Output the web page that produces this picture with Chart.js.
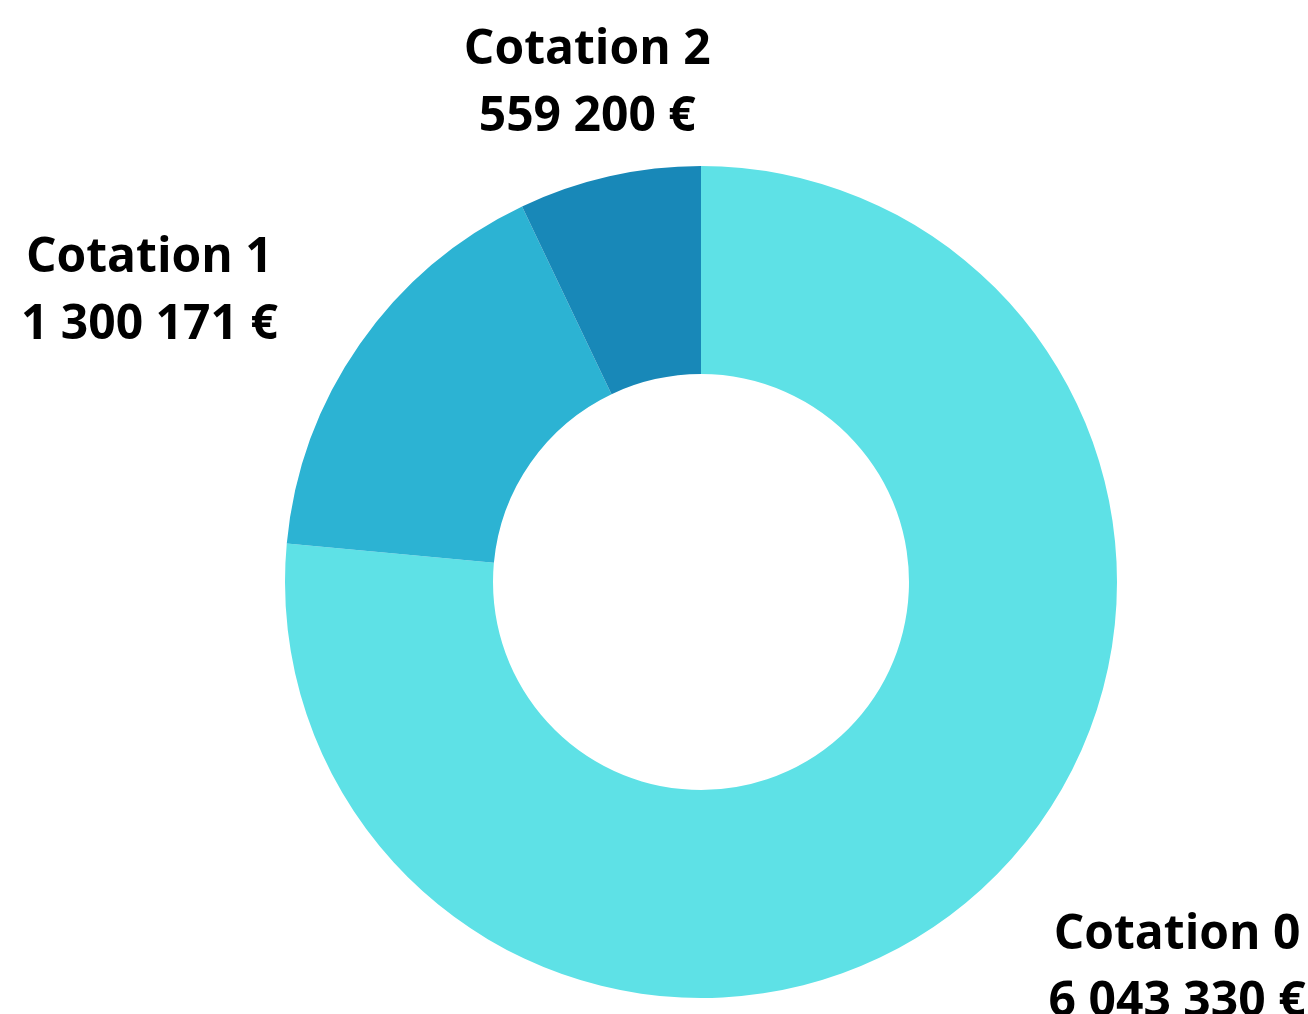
<!DOCTYPE html>
<html><head><meta charset="utf-8">
<script src="https://cdn.jsdelivr.net/npm/chart.js@4"></script>
<style>html,body{margin:0;padding:0;background:#fff;overflow:hidden}#wrap{width:1308px;height:1014px;position:relative}</style>
</head><body><div id="wrap"><canvas id="c"></canvas></div>
<script>
const categories = ['Cotation 0', 'Cotation 1', 'Cotation 2'];
const amounts = [6043330, 1300171, 559200];
const sliceColors = ['#5EE1E6', '#2CB3D3', '#1888B8'];

function fmt(n) { return String(n).replace(/\B(?=(\d{3})+(?!\d))/g, ' ') + ' €'; }

const labelPlugin = {
  id: 'outerLabels',
  afterDatasetsDraw(chart) {
    const ctx = chart.ctx;
    const meta = chart.getDatasetMeta(0);
    ctx.save();
    ctx.font = 'bold 48px "Open Sans"';
    ctx.fillStyle = '#000';
    ctx.textBaseline = 'middle';
    const lineH = 67;
    const baseShift = 5;
    meta.data.forEach((arc, i) => {
      const p = arc.getProps(['x', 'y', 'startAngle', 'endAngle', 'outerRadius'], true);
      const mid = (p.startAngle + p.endAngle) / 2;
      const r = p.outerRadius + 100;
      const vx = Math.cos(mid), vy = Math.sin(mid);
      const px = p.x + vx * r, py = p.y + vy * r + baseShift;
      const lines = [categories[i], fmt(amounts[i])];
      const w = Math.max(...lines.map(l => ctx.measureText(l).width));
      let cx = px;
      if (vx > 0.35) cx = px + w / 2; else if (vx < -0.35) cx = px - w / 2;
      ctx.textAlign = 'center';
      lines.forEach((l, k) => ctx.fillText(l, cx, py + (k - (lines.length - 1) / 2) * lineH));
    });
    ctx.restore();
  }
};

new Chart(document.getElementById('c'), {
  type: 'doughnut',
  data: {
    labels: categories,
    datasets: [{
      data: amounts,
      backgroundColor: sliceColors,
      borderWidth: 0,
      hoverOffset: 0
    }]
  },
  options: {
    responsive: true,
    maintainAspectRatio: false,
    animation: false,
    cutout: '50%',
    layout: { padding: { left: 285, right: 191, top: 166, bottom: 16 } },
    plugins: { legend: { display: false }, tooltip: { enabled: false } }
  },
  plugins: [labelPlugin]
});
</script>
</body></html>
